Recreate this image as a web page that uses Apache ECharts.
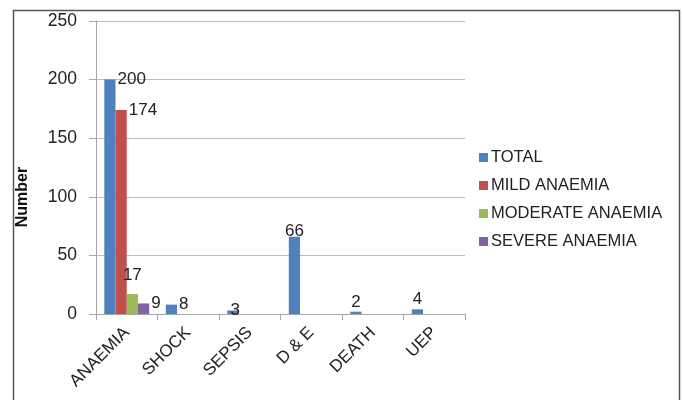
<!DOCTYPE html>
<html>
<head>
<meta charset="utf-8">
<script src="https://cdn.jsdelivr.net/npm/echarts@6/dist/echarts.min.js"></script>
<style>
  html, body { margin: 0; padding: 0; background: #fff; }
  #chart { width: 683px; height: 400px; }
</style>
</head>
<body>
<div id="chart"></div>
<script>
// Complications and anaemia grades
const categories = ['ANAEMIA', 'SHOCK', 'SEPSIS', 'D & E', 'DEATH', 'UEP'];
const totalValues = [200, 8, 3, 66, 2, 4];
const mildValues = [174, null, null, null, null, null];
const moderateValues = [17, null, null, null, null, null];
const severeValues = [9, null, null, null, null, null];
const yTicks = [0, 50, 100, 150, 200, 250];

const FONT = 'Liberation Sans';
const textColor = '#222';

// label placements
const rightTop = { position: ['100%', 0], align: 'left', verticalAlign: 'middle', distance: 0, offset: [2, 0] };

function labelled(values, placements) {
  return values.map((v, i) => {
    if (v === null) return null;
    const p = placements[i] || rightTop;
    return { value: v, label: Object.assign({ show: true }, p) };
  });
}

const chart = echarts.init(document.getElementById('chart'));
chart.setOption({
  animation: false,
  textStyle: { fontFamily: FONT },
  grid: { left: 96, right: 218, top: 21, bottom: 86 },
  legend: {
    orient: 'vertical',
    left: 474,
    top: 144,
    itemWidth: 9,
    itemHeight: 9,
    itemGap: 11,
    icon: 'rect',
    textStyle: { fontFamily: FONT, fontSize: 16.5, color: textColor, padding: [0, 0, 0, -2] },
    data: ['TOTAL', 'MILD ANAEMIA', 'MODERATE ANAEMIA', 'SEVERE ANAEMIA']
  },
  xAxis: {
    type: 'category',
    data: categories,
    axisLine: { lineStyle: { color: '#a6a6a6', width: 1 } },
    axisTick: { show: true, length: 6, lineStyle: { color: '#a6a6a6' } },
    axisLabel: { rotate: 45, fontSize: 17, color: textColor, fontFamily: FONT, margin: 16 }
  },
  yAxis: {
    type: 'value',
    min: yTicks[0],
    max: yTicks[yTicks.length - 1],
    interval: 50,
    axisLine: { show: true, lineStyle: { color: '#a6a6a6' } },
    axisTick: { show: true, length: 7, lineStyle: { color: '#a6a6a6' } },
    axisLabel: { fontSize: 17.5, color: textColor, fontFamily: FONT, margin: 19 },
    splitLine: { lineStyle: { color: '#bdbdbd', width: 1 } }
  },
  series: [
    {
      name: 'TOTAL', type: 'bar', barGap: '0%', barCategoryGap: '27%',
      itemStyle: { color: '#4F81BD' },
      label: { fontSize: 17, color: textColor, fontFamily: FONT },
      data: labelled(totalValues, [
        rightTop,
        rightTop,
        { position: ['100%', 0], align: 'left', verticalAlign: 'middle', offset: [-8, 0] },
        { position: 'top', distance: -3 },
        { position: 'top', distance: 1 },
        { position: 'top', distance: 1 }
      ])
    },
    {
      name: 'MILD ANAEMIA', type: 'bar',
      itemStyle: { color: '#C0504D' },
      label: { fontSize: 17, color: textColor, fontFamily: FONT },
      data: labelled(mildValues, [rightTop])
    },
    {
      name: 'MODERATE ANAEMIA', type: 'bar',
      itemStyle: { color: '#9BBB59' },
      label: { fontSize: 17, color: textColor, fontFamily: FONT },
      data: labelled(moderateValues, [{ position: 'top', distance: 10 }])
    },
    {
      name: 'SEVERE ANAEMIA', type: 'bar',
      itemStyle: { color: '#8064A2' },
      label: { fontSize: 17, color: textColor, fontFamily: FONT },
      data: labelled(severeValues, [rightTop])
    }
  ],
  graphic: [
    {
      type: 'rect', left: 11, top: 8, silent: true,
      shape: { width: 666, height: 400 },
      style: { fill: 'none', stroke: '#555', lineWidth: 1.5 }
    },
    {
      type: 'text', x: 23, y: 197, rotation: Math.PI / 2,
      style: {
        text: 'Number', fontFamily: FONT, fontSize: 16, fontWeight: 'bold',
        fill: '#111', align: 'center', verticalAlign: 'middle'
      }
    }
  ]
});
</script>
</body>
</html>
